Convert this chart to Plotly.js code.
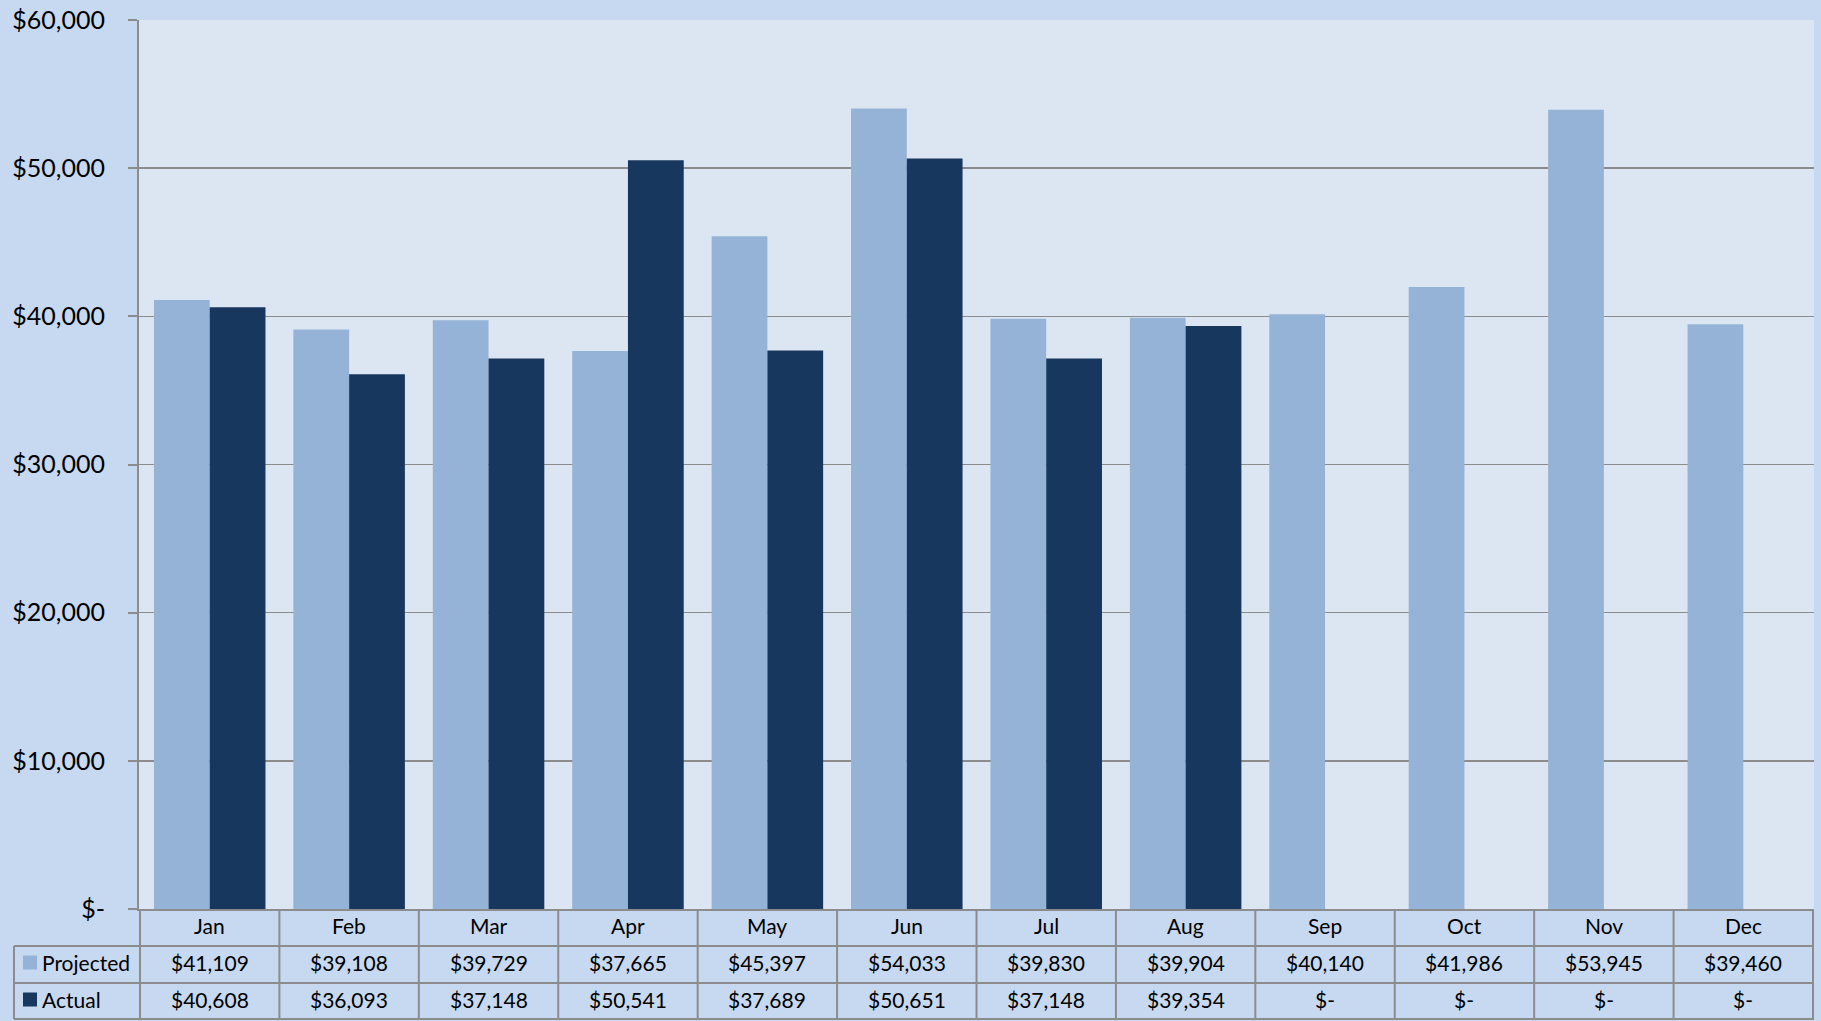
<!DOCTYPE html>
<html>
<head>
<meta charset="utf-8">
<script src="https://cdn.plot.ly/plotly-3.0.1.min.js"></script>
<style>
html,body{margin:0;padding:0;background:#c6d9f0;}
#chart{width:1821px;height:1021px;}
</style>
</head>
<body>
<div id="chart"></div>
<script>
// ---- data ----
const months = ["Jan","Feb","Mar","Apr","May","Jun","Jul","Aug","Sep","Oct","Nov","Dec"];
const projected = [41109,39108,39729,37665,45397,54033,39830,39904,40140,41986,53945,39460];
const actual = [40608,36093,37148,50541,37689,50651,37148,39354,null,null,null,null];
const seriesNames = ["Projected","Actual"];
const yTickVals = [0,10000,20000,30000,40000,50000,60000];
const yTickText = ["$-","$10,000","$20,000","$30,000","$40,000","$50,000","$60,000"];

// ---- styles ----
const colProj = "#95b3d7";
const colAct = "#17375e";
const lineCol = "#8c8c8c";
const fontFam = "Lato, 'Open Sans', sans-serif";

function money(v){ return (v===null||v===0) ? "$-" : "$" + v.toLocaleString("en-US"); }

const traces = [
  {type:"bar", name:seriesNames[0], x:months, y:projected, marker:{color:colProj}, hoverinfo:"x+y"},
  {type:"bar", name:seriesNames[1], x:months, y:actual, marker:{color:colAct}, hoverinfo:"x+y"}
];

const shapes = [];
const annotations = [];
const rowH = 37;
const plotW = 1675;
const txtUp = 2;
// horizontal table lines
[rowH, rowH*2, rowH*3-1].forEach(off=>{
  shapes.push({type:"line", xref:"paper", x0:-125/plotW, x1:1,
    yref:"paper", ysizemode:"pixel", yanchor:0, y0:-off, y1:-off,
    line:{color:lineCol, width:2}});
});
// vertical lines at category boundaries
for(let i=0;i<=months.length;i++){
  shapes.push({type:"line", xref:"x", x0:i-0.5, x1:i-0.5,
    yref:"paper", ysizemode:"pixel", yanchor:0, y0:0, y1:-(rowH*3-1),
    line:{color:lineCol, width:2}});
}
// left edge of row labels
shapes.push({type:"line", xref:"paper", x0:-125/plotW, x1:-125/plotW,
  yref:"paper", ysizemode:"pixel", yanchor:0, y0:-rowH, y1:-(rowH*3-1),
  line:{color:lineCol, width:2}});
// legend keys
[colProj, colAct].forEach((c,r)=>{
  const cy = -(rowH*(r+1) + rowH/2);
  shapes.push({type:"rect", xref:"paper", xsizemode:"pixel", xanchor:0, x0:-116, x1:-102,
    yref:"paper", ysizemode:"pixel", yanchor:0, y0:cy-7+txtUp, y1:cy+7+txtUp,
    fillcolor:c, line:{width:0}});
  annotations.push({xref:"paper", x:-99/plotW, yref:"paper", y:0, yshift:cy+txtUp,
    text:seriesNames[r], showarrow:false, xanchor:"left", yanchor:"middle",
    font:{family:fontFam, size:21, color:"#000"}});
});
// header and values
months.forEach((m,i)=>{
  annotations.push({xref:"x", x:m, yref:"paper", y:0, yshift:-rowH/2+txtUp, text:m,
    showarrow:false, yanchor:"middle", font:{family:fontFam, size:21, color:"#000"}});
  annotations.push({xref:"x", x:m, yref:"paper", y:0, yshift:-(rowH*1.5)+txtUp, text:money(projected[i]),
    showarrow:false, yanchor:"middle", font:{family:fontFam, size:21, color:"#000"}});
  annotations.push({xref:"x", x:m, yref:"paper", y:0, yshift:-(rowH*2.5)+txtUp, text:money(actual[i]),
    showarrow:false, yanchor:"middle", font:{family:fontFam, size:21, color:"#000"}});
});

const layout = {
  width:1821, height:1021,
  margin:{l:139, r:7, t:20, b:112, pad:0},
  paper_bgcolor:"#c6d9f0",
  plot_bgcolor:"#dce6f2",
  barmode:"group", bargap:0.2, bargroupgap:0,
  showlegend:false,
  font:{family:fontFam, color:"#000"},
  xaxis:{type:"category", showticklabels:false, showgrid:false, ticks:"",
    showline:true, linecolor:lineCol, linewidth:2, zeroline:false, fixedrange:true},
  yaxis:{range:[0,60000], tickvals:yTickVals, ticktext:yTickText,
    showgrid:true, gridcolor:lineCol, gridwidth:1.5,
    ticks:"outside", ticklen:9, tickcolor:lineCol, tickwidth:2,
    showline:true, linecolor:lineCol, linewidth:2, zeroline:false,
    ticklabelstandoff:18,
    tickfont:{family:fontFam, size:25, color:"#000"}, fixedrange:true},
  shapes:shapes,
  annotations:annotations
};

Plotly.newPlot("chart", traces, layout, {displayModeBar:false, staticPlot:true});
</script>
</body>
</html>
